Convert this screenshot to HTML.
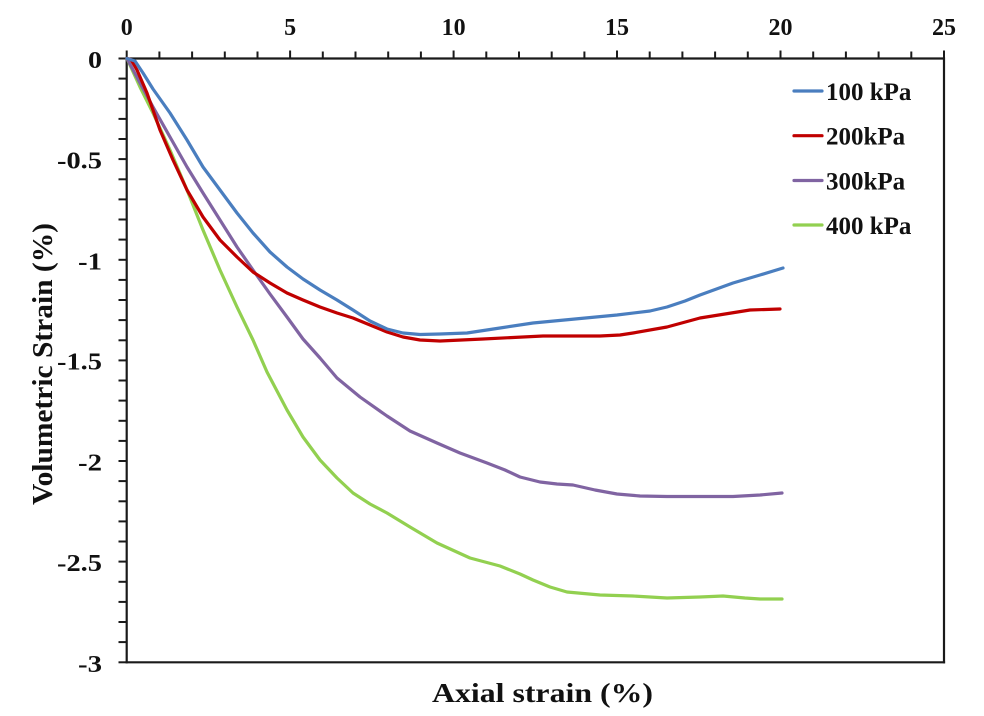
<!DOCTYPE html>
<html>
<head>
<meta charset="utf-8">
<style>
  html, body { margin: 0; padding: 0; background: #ffffff; }
  svg { display: block; }
  text { font-family: "Liberation Serif", "Times New Roman", serif; font-weight: bold; fill: #111; }
</style>
</head>
<body>
<svg width="984" height="716" viewBox="0 0 984 716" xmlns="http://www.w3.org/2000/svg">
  <rect width="984" height="716" fill="#ffffff"/>

  <!-- frame -->
  <g stroke="#1a1a1a" stroke-width="2.2" fill="none">
    <line x1="126.7" y1="58.5" x2="944" y2="58.5"/>
    <line x1="126.7" y1="57.4" x2="126.7" y2="663.4"/>
    <line x1="944" y1="57.4" x2="944" y2="663.4"/>
    <line x1="125.6" y1="662.3" x2="945.1" y2="662.3"/>
  </g>

  <!-- x ticks (top, upward) -->
  <g stroke="#1a1a1a" stroke-width="2">
    <line x1="126.7" y1="58.5" x2="126.7" y2="50.5"/>
    <line x1="159.4" y1="58.5" x2="159.4" y2="51.5"/>
    <line x1="192.1" y1="58.5" x2="192.1" y2="51.5"/>
    <line x1="224.8" y1="58.5" x2="224.8" y2="51.5"/>
    <line x1="257.5" y1="58.5" x2="257.5" y2="51.5"/>
    <line x1="290.1" y1="58.5" x2="290.1" y2="50.5"/>
    <line x1="322.8" y1="58.5" x2="322.8" y2="51.5"/>
    <line x1="355.5" y1="58.5" x2="355.5" y2="51.5"/>
    <line x1="388.2" y1="58.5" x2="388.2" y2="51.5"/>
    <line x1="420.9" y1="58.5" x2="420.9" y2="51.5"/>
    <line x1="453.6" y1="58.5" x2="453.6" y2="50.5"/>
    <line x1="486.3" y1="58.5" x2="486.3" y2="51.5"/>
    <line x1="519.0" y1="58.5" x2="519.0" y2="51.5"/>
    <line x1="551.7" y1="58.5" x2="551.7" y2="51.5"/>
    <line x1="584.4" y1="58.5" x2="584.4" y2="51.5"/>
    <line x1="617.0" y1="58.5" x2="617.0" y2="50.5"/>
    <line x1="649.7" y1="58.5" x2="649.7" y2="51.5"/>
    <line x1="682.4" y1="58.5" x2="682.4" y2="51.5"/>
    <line x1="715.1" y1="58.5" x2="715.1" y2="51.5"/>
    <line x1="747.8" y1="58.5" x2="747.8" y2="51.5"/>
    <line x1="780.5" y1="58.5" x2="780.5" y2="50.5"/>
    <line x1="813.2" y1="58.5" x2="813.2" y2="51.5"/>
    <line x1="845.9" y1="58.5" x2="845.9" y2="51.5"/>
    <line x1="878.6" y1="58.5" x2="878.6" y2="51.5"/>
    <line x1="911.3" y1="58.5" x2="911.3" y2="51.5"/>
    <line x1="944.0" y1="58.5" x2="944.0" y2="50.5"/>
  </g>

  <!-- y ticks (left, outward) -->
  <g stroke="#1a1a1a" stroke-width="2">
    <line x1="118.5" y1="58.5" x2="126.7" y2="58.5"/>
    <line x1="118.5" y1="78.6" x2="126.7" y2="78.6"/>
    <line x1="118.5" y1="98.8" x2="126.7" y2="98.8"/>
    <line x1="118.5" y1="118.9" x2="126.7" y2="118.9"/>
    <line x1="118.5" y1="139.0" x2="126.7" y2="139.0"/>
    <line x1="118.5" y1="159.1" x2="126.7" y2="159.1"/>
    <line x1="118.5" y1="179.3" x2="126.7" y2="179.3"/>
    <line x1="118.5" y1="199.4" x2="126.7" y2="199.4"/>
    <line x1="118.5" y1="219.5" x2="126.7" y2="219.5"/>
    <line x1="118.5" y1="239.6" x2="126.7" y2="239.6"/>
    <line x1="118.5" y1="259.8" x2="126.7" y2="259.8"/>
    <line x1="118.5" y1="279.9" x2="126.7" y2="279.9"/>
    <line x1="118.5" y1="300.0" x2="126.7" y2="300.0"/>
    <line x1="118.5" y1="320.1" x2="126.7" y2="320.1"/>
    <line x1="118.5" y1="340.3" x2="126.7" y2="340.3"/>
    <line x1="118.5" y1="360.4" x2="126.7" y2="360.4"/>
    <line x1="118.5" y1="380.5" x2="126.7" y2="380.5"/>
    <line x1="118.5" y1="400.6" x2="126.7" y2="400.6"/>
    <line x1="118.5" y1="420.8" x2="126.7" y2="420.8"/>
    <line x1="118.5" y1="440.9" x2="126.7" y2="440.9"/>
    <line x1="118.5" y1="461.0" x2="126.7" y2="461.0"/>
    <line x1="118.5" y1="481.1" x2="126.7" y2="481.1"/>
    <line x1="118.5" y1="501.3" x2="126.7" y2="501.3"/>
    <line x1="118.5" y1="521.4" x2="126.7" y2="521.4"/>
    <line x1="118.5" y1="541.5" x2="126.7" y2="541.5"/>
    <line x1="118.5" y1="561.6" x2="126.7" y2="561.6"/>
    <line x1="118.5" y1="581.8" x2="126.7" y2="581.8"/>
    <line x1="118.5" y1="601.9" x2="126.7" y2="601.9"/>
    <line x1="118.5" y1="622.0" x2="126.7" y2="622.0"/>
    <line x1="118.5" y1="642.1" x2="126.7" y2="642.1"/>
    <line x1="118.5" y1="662.3" x2="126.7" y2="662.3"/>
  </g>

  <!-- x tick labels -->
  <g font-size="24" text-anchor="middle">
    <text x="126.7" y="35">0</text>
    <text x="290.1" y="35">5</text>
    <text x="453.6" y="35">10</text>
    <text x="617.0" y="35">15</text>
    <text x="780.5" y="35">20</text>
    <text x="944.0" y="35">25</text>
  </g>

  <!-- y tick labels -->
  <g font-size="24" text-anchor="end">
    <text x="102" y="68" textLength="14" lengthAdjust="spacingAndGlyphs">0</text>
    <text x="102" y="168.5" textLength="45" lengthAdjust="spacingAndGlyphs">-0.5</text>
    <text x="102" y="269.3" textLength="24" lengthAdjust="spacingAndGlyphs">-1</text>
    <text x="102" y="369.5" textLength="45" lengthAdjust="spacingAndGlyphs">-1.5</text>
    <text x="102" y="470.5" textLength="24" lengthAdjust="spacingAndGlyphs">-2</text>
    <text x="102" y="571" textLength="45" lengthAdjust="spacingAndGlyphs">-2.5</text>
    <text x="102" y="671.8" textLength="24" lengthAdjust="spacingAndGlyphs">-3</text>
  </g>

  <!-- axis titles -->
  <text x="542.5" y="702" font-size="27" text-anchor="middle" textLength="221" lengthAdjust="spacingAndGlyphs">Axial strain (%)</text>
  <text transform="translate(52,364) rotate(-90)" x="0" y="0" font-size="28" text-anchor="middle" textLength="282" lengthAdjust="spacingAndGlyphs">Volumetric Strain (%)</text>

  <!-- series -->
  <g fill="none" stroke-width="3.2" stroke-linejoin="round" stroke-linecap="round">
    <polyline stroke="#92D050" points="127,58.5 140,87 153,113 170,150 187,190 203,230 220,270 237,307 253,340 267,372 287,410 303,437 320,460 337,478 353,493 370,504 387,513 410,527 437,543 470,558 500,566 520,574 533,580 550,587 567,592 600,595 633,596 667,598 700,597 723,596 745,598 760,599 782,599"/>
    <polyline stroke="#8064A2" points="127,58.5 140,83 153,107 170,137 187,167 203,193 220,220 237,247 253,270 270,294 287,317 303,339 320,358 337,378 360,397 387,416 410,431 437,443 460,453 487,463 505,470 520,477 540,482 557,484 573,485 595,490 617,494 640,496 667,496.5 700,496.5 733,496.5 760,495 782,493"/>
    <polyline stroke="#C00000" points="127,58.5 131,59.5 137,70 147,93 160,130 173,160 187,190 203,217 220,240 237,257 253,272 270,283 287,293 303,300 320,307 337,313 353,318 370,325 387,332 403,337 420,340 440,341 483,339 543,336 600,336 620,335 633,333 667,327 700,318 750,310 780,309"/>
    <polyline stroke="#4A7EBF" points="127,58.5 135,61 143,73 153,89 170,113 187,140 203,167 220,190 237,213 253,233 270,252 287,267 303,279 320,290 337,300 353,310 370,321 387,329 403,333 420,334.5 440,334 467,333 500,328 533,323 575,319 617,315 650,311 667,307 685,301 700,295 733,283 760,275 783,268"/>
  </g>

  <!-- legend -->
  <g stroke-width="3.2" stroke-linecap="round">
    <line x1="794" y1="91" x2="822" y2="91" stroke="#4A7EBF"/>
    <line x1="794" y1="135.7" x2="822" y2="135.7" stroke="#C00000"/>
    <line x1="794" y1="180.5" x2="822" y2="180.5" stroke="#8064A2"/>
    <line x1="794" y1="225" x2="822" y2="225" stroke="#92D050"/>
  </g>
  <g font-size="25">
    <text x="826" y="100">100 kPa</text>
    <text x="826" y="144.7">200kPa</text>
    <text x="826" y="189.5">300kPa</text>
    <text x="826" y="234">400 kPa</text>
  </g>
</svg>
</body>
</html>
